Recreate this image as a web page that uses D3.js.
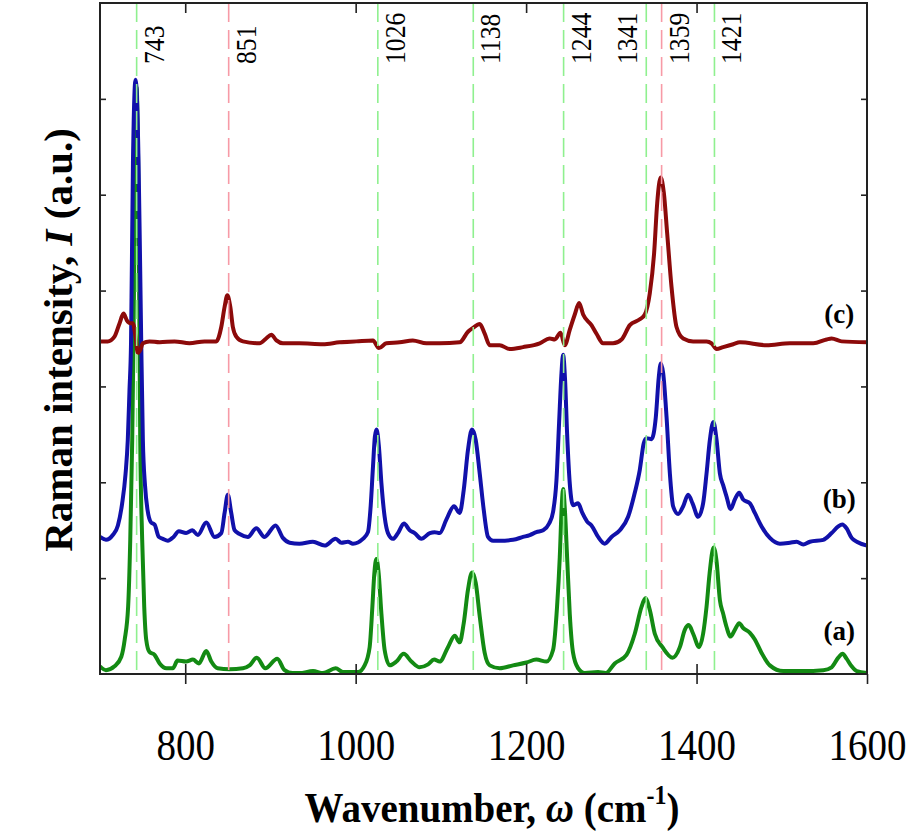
<!DOCTYPE html>
<html>
<head>
<meta charset="utf-8">
<script src="https://cdn.jsdelivr.net/npm/d3@7/dist/d3.min.js"></script>
<style>
  html, body { margin: 0; padding: 0; background: #fff; }
  svg { display: block; }
  text { font-family: "Liberation Serif", "Times New Roman", serif; fill: #000; }
</style>
</head>
<body>
<div id="chart"></div>
<script>
// ── Data ────────────────────────────────────────────────────────────────────
var wavenumberDomain = [700, 1600];
var xTickValues      = [800, 1000, 1200, 1400, 1600];
var intensityDomain  = [0, 7];
var yTickValues      = [1, 2, 3, 4, 5, 6];

// marked bands (cm-1): green lines and pink lines
var greenPeaks = [743, 1026, 1138, 1244, 1341, 1421];
var pinkPeaks  = [851, 1359];

// spectrum (a) – [wavenumber, intensity a.u.]
var spectrumA = [
  [700,0.08],[707,0.04],[717,0.08],[725,0.18],[729,0.36],[733,0.70],[735.5,1.40],[737.8,2.44],
  [739.3,3.48],[740.9,4.94],[742.9,6.12],[745.2,4.94],[747.2,2.44],[749.5,1.40],[751.9,0.70],
  [754.2,0.36],[758,0.23],[764,0.20],[770,0.11],[778,0.06],[785.5,0.06],[791,0.14],[801,0.13],
  [809,0.15],[816,0.11],[824.7,0.24],[830.6,0.13],[838,0.06],[852,0.05],[867.7,0.06],[875.5,0.09],
  [884,0.17],[894,0.06],[908,0.16],[916.6,0.04],[926,0.01],[934,0.01],[950,0.03],[961.6,0.01],
  [976.5,0.06],[985,0.02],[1002.7,0.02],[1010.5,0.09],[1016.4,0.28],[1019.6,0.70],[1021.9,1.05],
  [1024.3,1.20],[1027,1.05],[1030.2,0.63],[1034,0.25],[1040,0.09],[1047.8,0.13],[1056.3,0.21],
  [1065.4,0.13],[1075,0.07],[1085,0.10],[1092,0.15],[1098.6,0.13],[1108.3,0.28],[1116.2,0.40],
  [1122,0.33],[1126.8,0.53],[1131.8,0.88],[1136.5,1.06],[1140.9,0.95],[1145.6,0.60],[1151.4,0.22],
  [1157.3,0.09],[1169,0.06],[1184.7,0.09],[1200.4,0.12],[1212,0.15],[1224,0.13],[1231.6,0.25],
  [1236.3,0.70],[1239.5,1.22],[1241.8,1.75],[1243.4,1.93],[1245.7,1.68],[1248.1,1.22],[1251.2,0.63],
  [1255.1,0.22],[1261,0.06],[1268.8,0.01],[1284.5,0.02],[1293.5,0.01],[1304,0.11],[1317.8,0.20],
  [1327.5,0.42],[1335.4,0.70],[1339.9,0.79],[1345.1,0.67],[1351,0.42],[1360,0.28],[1371.8,0.17],
  [1380.4,0.28],[1386.2,0.46],[1390.9,0.51],[1396,0.42],[1403,0.28],[1407.7,0.42],[1411.7,0.70],
  [1415.3,1.05],[1420,1.32],[1423.3,1.19],[1427.4,0.77],[1431.2,0.63],[1435.2,0.49],[1439.9,0.39],
  [1444.9,0.46],[1450,0.53],[1454.7,0.48],[1462.6,0.43],[1468.4,0.36],[1476.3,0.22],[1486,0.09],
  [1501.7,0.03],[1525,0.03],[1548.7,0.04],[1558.5,0.07],[1566.3,0.17],[1571.4,0.21],[1576,0.16],
  [1582,0.08],[1588,0.03],[1600,0.01]
];

// spectrum (b)
var spectrumB = [
  [700,1.43],[707,1.40],[715,1.45],[721,1.55],[726,1.78],[730,2.09],[732.6,2.44],[734.6,2.96],
  [736.4,3.45],[738.7,5.36],[741.7,6.20],[745.2,5.36],[747,4.32],[748.4,3.45],[750.3,2.44],
  [752.8,1.97],[755.8,1.71],[760,1.58],[764,1.56],[769,1.43],[773.7,1.41],[779.6,1.39],[786.3,1.43],
  [792.5,1.49],[801,1.47],[808.3,1.50],[814.8,1.45],[824.7,1.58],[834.4,1.43],[842.3,1.47],
  [846.2,1.68],[850,1.87],[854,1.68],[857.9,1.50],[863.8,1.46],[873.5,1.43],[883.4,1.52],[893,1.43],
  [906,1.55],[914.6,1.42],[922.5,1.37],[934,1.36],[949.8,1.38],[963.6,1.34],[976.5,1.41],[983.2,1.37],
  [991,1.38],[996.8,1.36],[1008.5,1.41],[1014.4,1.48],[1017.6,1.75],[1020.3,2.16],[1022.6,2.48],
  [1024.6,2.55],[1027.3,2.37],[1030.2,1.99],[1034,1.64],[1037.9,1.47],[1043.8,1.41],[1049.6,1.47],
  [1056.7,1.57],[1063.4,1.50],[1069.2,1.47],[1077,1.41],[1087,1.47],[1092.7,1.48],[1098.6,1.47],
  [1106.4,1.61],[1115.4,1.75],[1122,1.68],[1126.8,1.92],[1131.8,2.34],[1136.5,2.55],[1140.9,2.44],
  [1145.6,2.09],[1150.3,1.71],[1155.3,1.43],[1161.2,1.39],[1169,1.39],[1184.7,1.40],[1196.4,1.43],
  [1204.3,1.45],[1212,1.48],[1220,1.50],[1227,1.57],[1231.6,1.69],[1235.6,2.02],[1238.7,2.62],
  [1241.5,3.14],[1243.4,3.33],[1245.7,3.07],[1248.1,2.51],[1251.2,1.99],[1255.1,1.76],[1261,1.78],
  [1266,1.68],[1271.6,1.59],[1276.7,1.55],[1284.5,1.43],[1292.3,1.36],[1300.2,1.43],[1310,1.50],
  [1319.7,1.64],[1327.5,1.89],[1333.4,2.13],[1338.1,2.41],[1341.3,2.46],[1347.2,2.45],[1352.2,2.68],
  [1355.7,3.10],[1358.1,3.24],[1360.8,3.14],[1364.8,2.68],[1368.7,2.09],[1372.5,1.75],[1378.4,1.67],
  [1384.3,1.75],[1390.1,1.87],[1395.3,1.78],[1401.9,1.64],[1407.7,1.78],[1411.7,2.09],[1415.6,2.44],
  [1419.7,2.63],[1423.5,2.44],[1427.4,2.09],[1431.2,1.97],[1435.2,1.85],[1439.9,1.72],[1444.9,1.82],
  [1450,1.89],[1454.7,1.82],[1462.6,1.78],[1468.4,1.68],[1476.3,1.54],[1486,1.42],[1497.8,1.36],
  [1509.6,1.37],[1517.4,1.38],[1525.2,1.35],[1533,1.38],[1548.7,1.40],[1558.5,1.47],[1566.3,1.54],
  [1571,1.56],[1576,1.52],[1582,1.42],[1588,1.38],[1600,1.34]
];

// spectrum (c)
var spectrumC = [
  [700,3.47],[709,3.47],[717,3.52],[723,3.66],[727.6,3.76],[731.5,3.69],[735.5,3.66],[738.5,3.66],
  [741.7,3.52],[744.4,3.35],[747.2,3.38],[750.3,3.45],[758,3.47],[770,3.46],[787.5,3.47],[805,3.45],
  [822.7,3.47],[836.4,3.47],[842.3,3.62],[846.2,3.83],[849.4,3.95],[852.9,3.83],[855.9,3.62],
  [859.9,3.52],[867.7,3.47],[887.3,3.45],[895,3.50],[901,3.54],[907,3.48],[914.6,3.45],[934,3.45],
  [961.6,3.44],[981,3.46],[1000.8,3.47],[1020.3,3.48],[1027.3,3.40],[1036,3.45],[1051.6,3.46],
  [1067,3.48],[1083,3.45],[1098.6,3.45],[1122,3.46],[1131.8,3.57],[1137.7,3.61],[1145.6,3.65],
  [1151.4,3.55],[1157.3,3.43],[1169,3.43],[1180.8,3.39],[1196.4,3.41],[1216,3.45],[1227.8,3.50],
  [1233.7,3.49],[1240.4,3.56],[1245.4,3.43],[1251.2,3.59],[1257.1,3.75],[1262.2,3.87],[1266.9,3.75],
  [1276.7,3.64],[1282.6,3.55],[1290.3,3.45],[1302,3.45],[1312,3.49],[1321.7,3.64],[1333.4,3.70],
  [1339.3,3.75],[1345.1,3.97],[1350.2,4.39],[1353.8,4.91],[1357.9,5.18],[1361.6,5.02],[1365.5,4.60],
  [1370.6,4.04],[1376.5,3.62],[1384.3,3.50],[1396,3.47],[1411.7,3.47],[1417.6,3.45],[1423.5,3.39],
  [1431.2,3.41],[1443,3.44],[1450.8,3.46],[1482,3.43],[1509.6,3.45],[1537,3.45],[1552.6,3.49],
  [1558.5,3.50],[1570.2,3.47],[1600,3.46]
];

var seriesNames  = ['(a)', '(b)', '(c)'];
var seriesData   = [spectrumA, spectrumB, spectrumC];
var seriesColors = ['#138a13', '#1111aa', '#8c0a0a'];
var labelAt      = 1565;   // wavenumber where the (a)/(b)/(c) tags sit

// ── Layout ──────────────────────────────────────────────────────────────────
var width = 908, height = 834;
var margin = { top: 3, right: 41, bottom: 160, left: 100 };
var iw = width - margin.left - margin.right;
var ih = height - margin.top - margin.bottom;
var serif = '"Liberation Serif", "Times New Roman", serif';

var svg = d3.select('#chart').append('svg')
    .attr('width', width).attr('height', height);

var g = svg.append('g')
    .attr('transform', 'translate(' + margin.left + ',' + margin.top + ')');

var xScale = d3.scaleLinear().domain(wavenumberDomain).range([0, iw]);
var yScale = d3.scaleLinear().domain(intensityDomain).range([ih, 0]);

g.append('clipPath').attr('id', 'plotClip')
  .append('rect').attr('width', iw).attr('height', ih);

// ── Spectra ─────────────────────────────────────────────────────────────────
var lineGen = d3.line()
    .x(function (d) { return xScale(d[0]); })
    .y(function (d) { return yScale(d[1]); })
    .curve(d3.curveMonotoneX);

var curves = g.append('g').attr('clip-path', 'url(#plotClip)');
seriesData.forEach(function (data, i) {
    curves.append('path')
        .datum(data)
        .attr('fill', 'none')
        .attr('stroke', seriesColors[i])
        .attr('stroke-width', 4)
        .attr('stroke-linejoin', 'round')
        .attr('d', lineGen);
});

// ── Marked bands (dashed) ───────────────────────────────────────────────────
var bands = greenPeaks.map(function (w) { return { w: w, color: '#8ff08f' }; })
    .concat(pinkPeaks.map(function (w) { return { w: w, color: '#f79aa6' }; }))
    .sort(function (a, b) { return a.w - b.w; });

g.selectAll('line.band').data(bands).enter().append('line')
    .attr('class', 'band')
    .attr('x1', function (d) { return xScale(d.w); })
    .attr('x2', function (d) { return xScale(d.w); })
    .attr('y1', 0).attr('y2', ih)
    .attr('stroke', function (d) { return d.color; })
    .attr('stroke-width', 1.6)
    .attr('stroke-dasharray', '19 8');

// label goes left of its line when the next band is too close
g.selectAll('text.band').data(bands).enter().append('text')
    .attr('class', 'band')
    .attr('transform', function (d, i) {
        var next = bands[i + 1];
        var left = next && (next.w - d.w) < 30;
        var bx = xScale(d.w) + (left ? -9 : 27);
        return 'translate(' + bx + ',61) rotate(-90) scale(0.95,1.12)';
    })
    .attr('font-family', serif)
    .attr('font-size', 27)
    .text(function (d) { return d.w; });

// ── Series tags ─────────────────────────────────────────────────────────────
seriesData.forEach(function (data, i) {
    var near = data.reduce(function (best, d) {
        return Math.abs(d[0] - labelAt) < Math.abs(best[0] - labelAt) ? d : best;
    });
    g.append('text')
        .attr('x', xScale(labelAt) + 2)
        .attr('y', yScale(near[1]) - 18)
        .attr('text-anchor', 'middle')
        .attr('font-family', serif)
        .attr('font-size', 27)
        .attr('font-weight', 'bold')
        .text(seriesNames[i]);
});

// ── Axes ────────────────────────────────────────────────────────────────────
var axisColor = '#222';

var xBottom = g.append('g')
    .attr('transform', 'translate(0,' + ih + ')')
    .call(d3.axisBottom(xScale).tickValues(xTickValues).tickSize(10)
        .tickPadding(0).tickFormat(d3.format('d')));
var xBottomIn = g.append('g')
    .attr('transform', 'translate(0,' + ih + ')')
    .call(d3.axisTop(xScale).tickValues(xTickValues.slice(0, -1)).tickSize(10).tickFormat(''));
var xTop = g.append('g')
    .call(d3.axisBottom(xScale).tickValues(xTickValues.slice(0, -1)).tickSize(10).tickFormat(''));
var yLeft = g.append('g')
    .call(d3.axisRight(yScale).tickValues(yTickValues).tickSize(6).tickFormat(''));
var yRight = g.append('g')
    .attr('transform', 'translate(' + iw + ',0)')
    .call(d3.axisLeft(yScale).tickValues(yTickValues).tickSize(6).tickFormat(''));

[xBottom, xBottomIn, xTop, yLeft, yRight].forEach(function (ax) {
    ax.select('.domain').remove();
    ax.selectAll('.tick line').attr('stroke', axisColor).attr('stroke-width', 1.6);
});
xBottom.selectAll('.tick text')
    .attr('dy', null).attr('y', 0)
    .attr('transform', 'translate(0,86) scale(1,1.12)')
    .attr('font-family', serif)
    .attr('font-size', 39)
    .attr('fill', '#000');

g.append('rect')
    .attr('width', iw).attr('height', ih)
    .attr('fill', 'none')
    .attr('stroke', axisColor)
    .attr('stroke-width', 2);

// ── Axis titles ─────────────────────────────────────────────────────────────
var xTitle = svg.append('text')
    .attr('transform', 'translate(492,822) scale(1,1.1)')
    .attr('text-anchor', 'middle')
    .attr('font-family', serif)
    .attr('font-size', 39)
    .attr('font-weight', 'bold');
xTitle.append('tspan').text('Wavenumber, ');
xTitle.append('tspan').attr('font-style', 'italic').text('\u03c9');
xTitle.append('tspan').text(' (cm');
xTitle.append('tspan').attr('font-size', 24).attr('dy', -16).text('-1');
xTitle.append('tspan').attr('dy', 16).text(')');

var yTitle = svg.append('text')
    .attr('transform', 'translate(72,340) rotate(-90)')
    .attr('text-anchor', 'middle')
    .attr('font-family', serif)
    .attr('font-size', 41)
    .attr('font-weight', 'bold');
yTitle.append('tspan').text('Raman intensity, ');
yTitle.append('tspan').attr('font-style', 'italic').text('I');
yTitle.append('tspan').text(' (a.u.)');
</script>
</body>
</html>
